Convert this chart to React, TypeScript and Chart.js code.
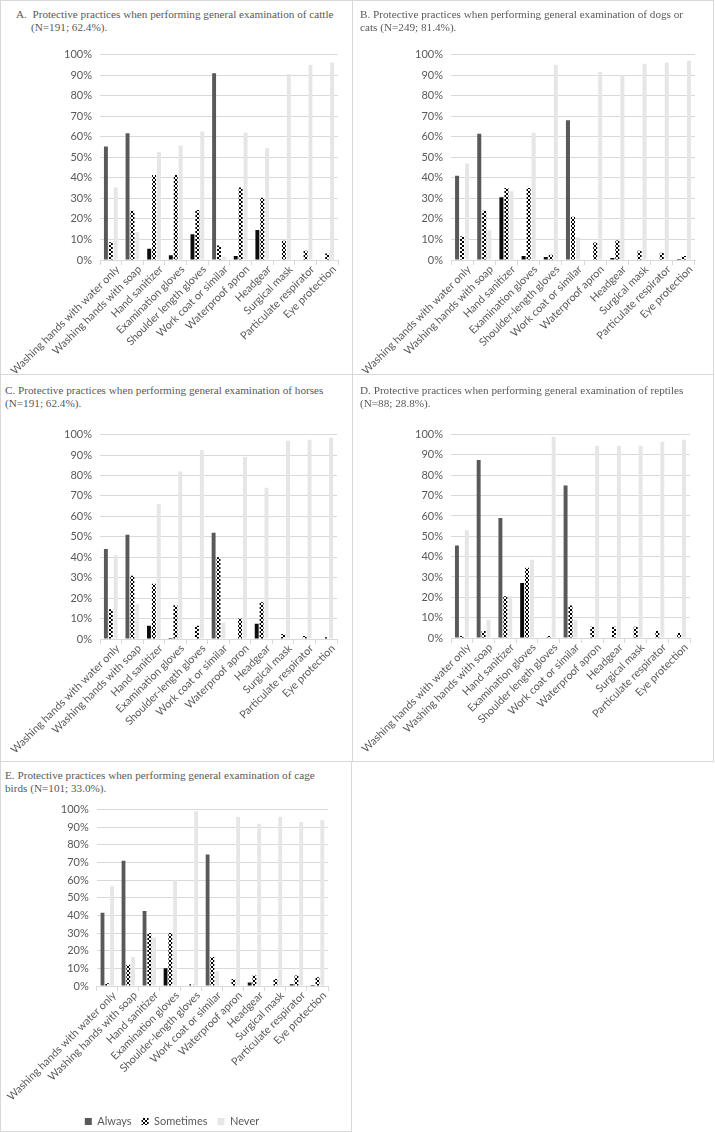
import React, { useEffect, useRef } from 'react';
import { Chart, registerables } from 'chart.js';

Chart.register(...registerables);

// Category labels
const categoriesPlain = [
  'Washing hands with water only',
  'Washing hands with soap',
  'Hand sanitizer',
  'Examination gloves',
  'Shoulder length gloves',
  'Work coat or similar',
  'Waterproof apron',
  'Headgear',
  'Surgical mask',
  'Particulate respirator',
  'Eye protection',
];
const categoriesHyphen = [
  'Washing hands with water only',
  'Washing hands with soap',
  'Hand sanitizer',
  'Examination gloves',
  'Shoulder-length gloves',
  'Work coat or similar',
  'Waterproof apron',
  'Headgear',
  'Surgical mask',
  'Particulate respirator',
  'Eye protection',
];

const seriesNames = ['Always', 'Sometimes', 'Never'];
const yTicks = [0, 10, 20, 30, 40, 50, 60, 70, 80, 90, 100];

// A. Cattle
const alwaysA = [55.3, 61.7, 5.5, 2.3, 12.5, 90.9, 1.9, 14.6, 0, 0, 0];
const sometimesA = [8.6, 24, 41.4, 41.4, 24.3, 7.1, 35.3, 30.3, 9.4, 4.5, 3.2];
const neverA = [35.3, 13.8, 52.6, 55.8, 62.6, 1.6, 62, 54.4, 90.5, 95.1, 96.1];

// B. Dogs or cats
const alwaysB = [41, 61.5, 30.5, 2, 1.5, 68, 0, 1, 0, 0, 0.5];
const sometimesB = [11.5, 24, 35, 35, 2.5, 21, 8.5, 9.5, 4.5, 3.5, 2];
const neverB = [47, 14.5, 33.5, 62, 95, 11, 91.5, 90, 95.5, 96, 97];

// C. Horses
const alwaysC = [44, 51, 6.5, 0.5, 0.3, 52, 0.2, 7.5, 0, 0, 0];
const sometimesC = [14.5, 31, 27, 16.5, 6.5, 40, 10, 18, 2.5, 1.5, 0.8];
const neverC = [41, 17, 66, 82, 92.5, 8, 89, 74, 97, 97.5, 98.5];

// D. Reptiles
const alwaysD = [45.5, 87.5, 59, 27, 0, 75, 0, 0, 0, 0, 0];
const sometimesD = [1, 3.5, 20.5, 34.5, 1, 16, 5.5, 5.5, 5.5, 3.5, 2.5];
const neverD = [53, 9, 20.5, 38.5, 99, 9, 94.5, 94.5, 94.5, 96.5, 97.5];

// E. Cage birds
const alwaysE = [41.5, 71, 42.5, 10, 0, 74.5, 0, 2, 0, 1, 0.5];
const sometimesE = [1.5, 12, 30, 30, 1, 16.5, 4, 6, 4, 6, 5];
const neverE = [56.5, 16.5, 27.5, 60, 99, 8.5, 96, 92, 96, 93, 94];

type Panel = {
  key: string;
  titleLines: string[];
  indent: boolean;
  categories: string[];
  always: number[];
  sometimes: number[];
  never: number[];
  box: { left: number; top: number; width: number; height: number };
  title: { left: number; top: number };
  canvas: { left: number; top: number; width: number; height: number };
  padTop: number;
  padRight: number;
  padBottom: number;
  padLeft: number;
  yWidth: number;
  xHeight: number;
  legend: boolean;
};

const panels: Panel[] = [
  {
    key: 'A',
    titleLines: ['A.\u00a0\u00a0Protective practices when performing general examination of cattle', '(N=191; 62.4%).'],
    indent: true,
    categories: categoriesPlain,
    always: alwaysA, sometimes: sometimesA, never: neverA,
    box: { left: 0, top: 0, width: 353, height: 375 },
    title: { left: 16, top: 8 },
    canvas: { left: 0, top: 40, width: 352, height: 336 },
    padTop: 14, padRight: 14, padBottom: 0, padLeft: 0, yWidth: 100, xHeight: 116, legend: false,
  },
  {
    key: 'B',
    titleLines: ['B. Protective practices when performing general examination of dogs or', 'cats (N=249; 81.4%).'],
    indent: false,
    categories: categoriesHyphen,
    always: alwaysB, sometimes: sometimesB, never: neverB,
    box: { left: 352, top: 0, width: 362, height: 375 },
    title: { left: 360, top: 8 },
    canvas: { left: 341, top: 40, width: 372, height: 336 },
    padTop: 14, padRight: 18, padBottom: 0, padLeft: 0, yWidth: 110, xHeight: 116, legend: false,
  },
  {
    key: 'C',
    titleLines: ['C. Protective practices when performing general examination of horses', '(N=191; 62.4%).'],
    indent: false,
    categories: categoriesHyphen,
    always: alwaysC, sometimes: sometimesC, never: neverC,
    box: { left: 0, top: 374, width: 353, height: 388 },
    title: { left: 5, top: 384 },
    canvas: { left: 0, top: 420, width: 352, height: 342 },
    padTop: 13, padRight: 15, padBottom: 0, padLeft: 0, yWidth: 100, xHeight: 123, legend: false,
  },
  {
    key: 'D',
    titleLines: ['D. Protective practices when performing general examination of reptiles', '(N=88; 28.8%).'],
    indent: false,
    categories: categoriesPlain,
    always: alwaysD, sometimes: sometimesD, never: neverD,
    box: { left: 352, top: 374, width: 362, height: 388 },
    title: { left: 360, top: 384 },
    canvas: { left: 341, top: 420, width: 372, height: 342 },
    padTop: 13, padRight: 23, padBottom: 0, padLeft: 0, yWidth: 110, xHeight: 124, legend: false,
  },
  {
    key: 'E',
    titleLines: ['E. Protective practices when performing general examination of cage', 'birds (N=101; 33.0%).'],
    indent: false,
    categories: categoriesHyphen,
    always: alwaysE, sometimes: sometimesE, never: neverE,
    box: { left: 0, top: 761, width: 352, height: 371 },
    title: { left: 5, top: 769 },
    canvas: { left: 0, top: 795, width: 351, height: 342 },
    padTop: 10, padRight: 23, padBottom: 0, padLeft: 16, yWidth: 78, xHeight: 120, legend: true,
  },
];

const TEXT = '#595959';
const GRID = '#d9d9d9';
const NEVER = '#e7e6e6';
const SANS = 'Lato, "Open Sans", sans-serif';

function makeHatch(): CanvasPattern | string {
  const c = document.createElement('canvas');
  c.width = 4;
  c.height = 4;
  const g = c.getContext('2d');
  if (!g) return '#777';
  g.fillStyle = '#ffffff';
  g.fillRect(0, 0, 4, 4);
  g.strokeStyle = '#000000';
  g.lineWidth = 1;
  g.beginPath();
  g.moveTo(0, 0);
  g.lineTo(4, 4);
  g.moveTo(4, 0);
  g.lineTo(0, 4);
  g.stroke();
  return g.createPattern(c, 'repeat') || '#777';
}

function PanelChart({ p }: { p: Panel }) {
  const ref = useRef<HTMLCanvasElement | null>(null);
  useEffect(() => {
    if (!ref.current) return;
    const hatch = makeHatch();
    const chart = new Chart(ref.current, {
      type: 'bar',
      data: {
        labels: p.categories,
        datasets: [
          {
            label: seriesNames[0],
            data: p.always,
            backgroundColor: (ctx: any) =>
              typeof ctx.raw === 'number' && ctx.raw < 36 ? '#0d0d0d' : '#595959',
          },
          { label: seriesNames[1], data: p.sometimes, backgroundColor: hatch as any },
          { label: seriesNames[2], data: p.never, backgroundColor: NEVER },
        ],
      },
      options: {
        animation: false,
        responsive: false,
        maintainAspectRatio: false,
        layout: {
          autoPadding: false,
          padding: { top: p.padTop, right: p.padRight, bottom: p.padBottom, left: p.padLeft },
        },
        datasets: { bar: { categoryPercentage: 0.68, barPercentage: 0.8 } } as any,
        plugins: {
          legend: {
            display: p.legend,
            position: 'bottom',
            labels: {
              boxWidth: 7,
              boxHeight: 7,
              padding: 10,
              color: TEXT,
              font: { family: SANS, size: 11 },
            },
          },
          tooltip: { enabled: false },
        },
        scales: {
          x: {
            grid: {
              offset: true,
              drawOnChartArea: false,
              drawTicks: true,
              tickLength: 5,
              color: GRID,
            },
            border: { color: GRID },
            ticks: {
              autoSkip: false,
              maxRotation: 45,
              minRotation: 45,
              padding: -2,
              labelOffset: 7,
              color: TEXT,
              font: { family: SANS, size: 10.8 },
            },
            afterFit: (s: any) => {
              s.height = p.xHeight;
            },
          },
          y: {
            min: 0,
            max: 100,
            afterBuildTicks: (s: any) => {
              s.ticks = yTicks.map((v) => ({ value: v }));
            },
            ticks: {
              callback: (v: any) => v + '%',
              padding: 8,
              color: TEXT,
              font: { family: SANS, size: 11 },
            },
            grid: { color: GRID, drawTicks: false },
            border: { display: false },
            afterFit: (s: any) => {
              s.width = p.yWidth;
            },
          },
        },
      } as any,
    });
    return () => chart.destroy();
  }, [p]);
  return (
    <canvas
      ref={ref}
      width={p.canvas.width}
      height={p.canvas.height}
      style={{
        position: 'absolute',
        left: p.canvas.left,
        top: p.canvas.top,
        width: p.canvas.width,
        height: p.canvas.height,
      }}
    />
  );
}

export default function App() {
  return (
    <div
      style={{
        position: 'absolute',
        left: 0,
        top: 0,
        width: 715,
        height: 1132,
        background: '#fff',
        overflow: 'hidden',
      }}
    >
      {panels.map((p) => (
        <PanelChart key={'c' + p.key} p={p} />
      ))}
      {panels.map((p) => (
        <React.Fragment key={p.key}>
          <div
            style={{
              position: 'absolute',
              left: p.title.left,
              top: p.title.top,
              fontFamily: '"Liberation Serif", serif',
              fontSize: 11.2,
              lineHeight: '12.5px',
              color: TEXT,
              whiteSpace: 'nowrap',
            }}
          >
            <div>{p.titleLines[0]}</div>
            <div style={{ paddingLeft: p.indent ? 15 : 0 }}>{p.titleLines[1]}</div>
          </div>
          <div
            style={{
              position: 'absolute',
              left: p.box.left,
              top: p.box.top,
              width: p.box.width,
              height: p.box.height,
              boxSizing: 'border-box',
              border: '1.5px solid #d9d9d9',
              pointerEvents: 'none',
            }}
          />
        </React.Fragment>
      ))}
    </div>
  );
}
